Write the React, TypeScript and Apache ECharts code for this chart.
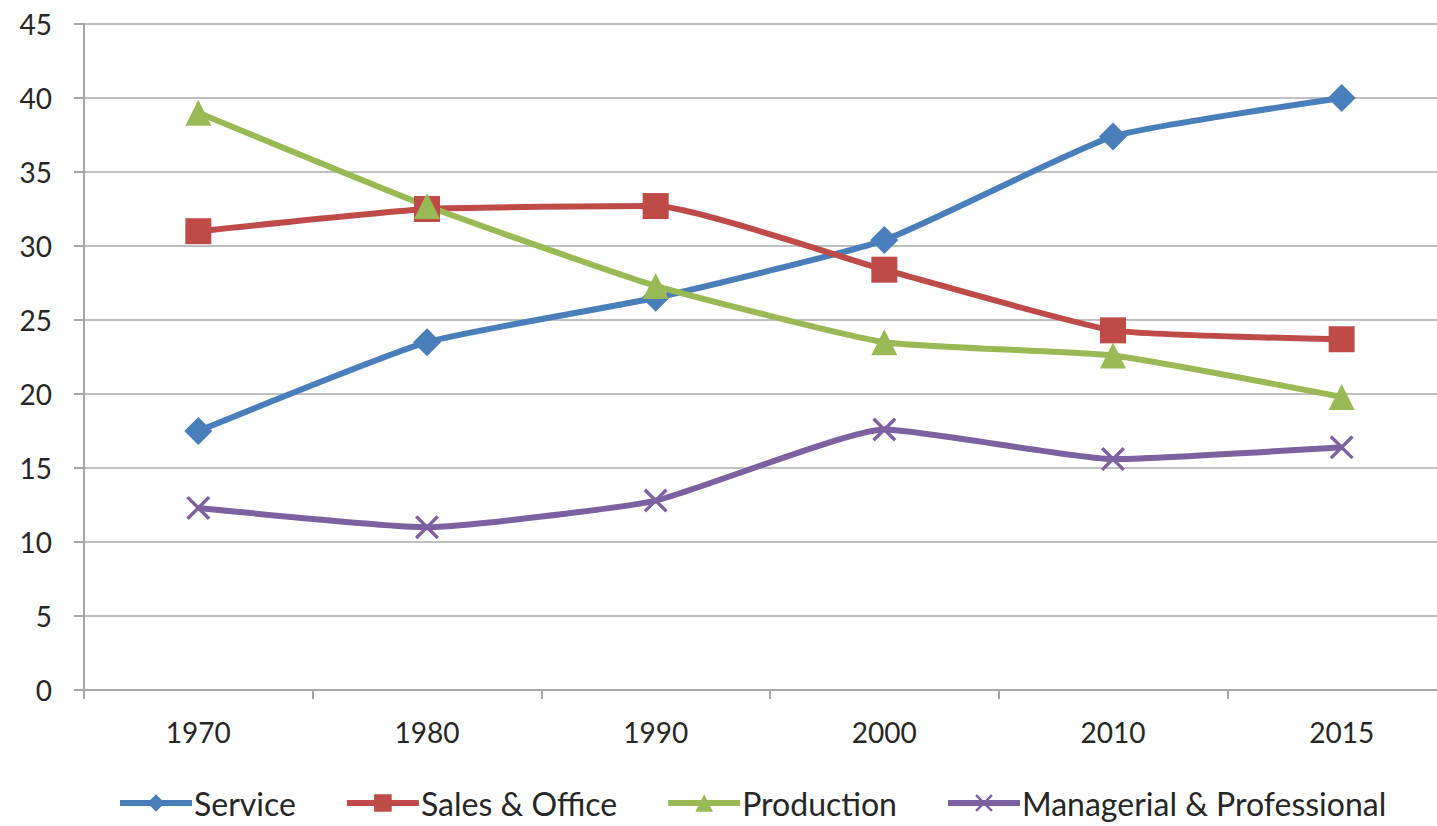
import React, { useEffect, useRef } from "react";
import * as echarts from "echarts";

const years = ["1970", "1980", "1990", "2000", "2010", "2015"];
const service = [17.5, 23.5, 26.5, 30.4, 37.4, 40.0];
const salesOffice = [31.0, 32.5, 32.7, 28.4, 24.3, 23.7];
const production = [39.0, 32.7, 27.3, 23.5, 22.6, 19.8];
const managerial = [12.3, 11.0, 12.8, 17.6, 15.6, 16.4];

const FONT = "Lato";
const TEXT = "#262626";
const CROSS = "path://M0,1L1,0L10,9L9,10Z M9,0L10,1L1,10L0,9Z";

function lineSeries(name: string, data: number[], color: string, symbol: string, size: number) {
  return {
    name,
    type: "line",
    data,
    smooth: 0.15,
    symbol,
    symbolSize: size,
    showSymbol: true,
    lineStyle: { color, width: 6 },
    itemStyle: { color, borderWidth: 0 },
    emphasis: { disabled: true },
  };
}

export default function App() {
  const ref = useRef<HTMLDivElement>(null);

  useEffect(() => {
    if (!ref.current) return;
    const chart = echarts.init(ref.current, null, { renderer: "svg" });
    chart.setOption({
      animation: false,
      backgroundColor: "#ffffff",
      textStyle: { fontFamily: FONT, color: TEXT },
      // the plot runs past the right edge of the visible frame
      grid: { left: 84, width: 1372, top: 24, height: 666, containLabel: false },
      xAxis: {
        type: "category",
        data: years,
        boundaryGap: true,
        axisLine: { lineStyle: { color: "#a6a6a6", width: 2 } },
        axisTick: { show: true, length: 9, lineStyle: { color: "#a6a6a6", width: 2 } },
        axisLabel: { fontFamily: FONT, fontSize: 28, color: TEXT, margin: 28 },
        splitLine: { show: false },
      },
      yAxis: {
        type: "value",
        min: 0,
        max: 45,
        interval: 5,
        axisLine: { show: true, lineStyle: { color: "#a6a6a6", width: 2 } },
        axisTick: { show: true, length: 10, lineStyle: { color: "#a6a6a6", width: 2 } },
        axisLabel: { fontFamily: FONT, fontSize: 28, color: TEXT, margin: 32 },
        splitLine: { show: true, lineStyle: { color: "#c0c0c0", width: 2 } },
      },
      legend: {
        bottom: 2,
        left: 112,
        itemWidth: 72,
        itemHeight: 22,
        itemGap: 48,
        lineStyle: { width: 6 },
        textStyle: { fontFamily: FONT, fontSize: 32, color: TEXT, padding: [0, 0, 0, -3] },
        data: ["Service", "Sales & Office", "Production", "Managerial & Professional"],
      },
      series: [
        lineSeries("Service", service, "#4a7ebb", "diamond", 28),
        lineSeries("Sales & Office", salesOffice, "#be4b48", "rect", 26),
        lineSeries("Production", production, "#98b954", "triangle", 26),
        lineSeries("Managerial & Professional", managerial, "#7d60a0", CROSS, 24),
      ],
    });
    return () => chart.dispose();
  }, []);

  return (
    <div style={{ position: "absolute", left: 0, top: 0, width: 1437, height: 826, overflow: "hidden" }}>
      <div ref={ref} style={{ width: 1462, height: 826 }} />
    </div>
  );
}
